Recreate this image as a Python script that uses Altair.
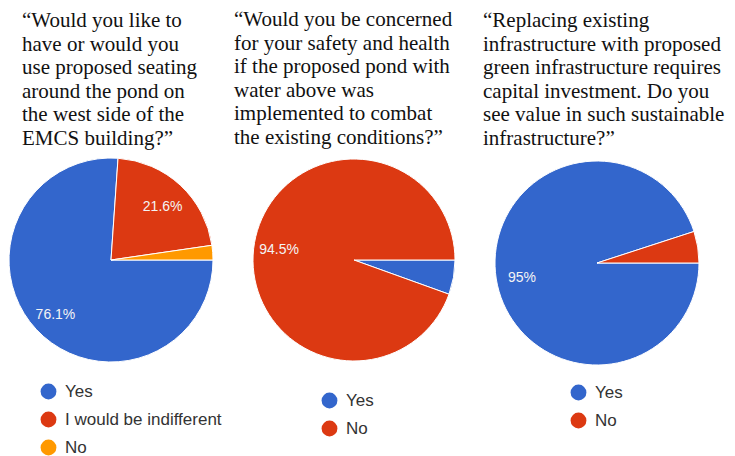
import math
import altair as alt
import pandas as pd

# ---- data ----
q1_categories = ["Yes", "I would be indifferent", "No"]
q1_values = [76.1, 21.6, 2.3]
q2_categories = ["Yes", "No"]
q2_values = [5.5, 94.5]
q3_categories = ["Yes", "No"]
q3_values = [95, 5]

q1_title = ["“Would you like to", "have or would you", "use proposed seating",
            "around the pond on", "the west side of the", "EMCS building?”"]
q2_title = ["“Would you be concerned", "for your safety and health",
            "if the proposed pond with", "water above was",
            "implemented to combat", "the existing conditions?”"]
q3_title = ["“Replacing existing", "infrastructure with proposed",
            "green infrastructure requires", "capital investment. Do you",
            "see value in such sustainable", "infrastructure?”"]

# ---- styles ----
BLUE, RED, ORANGE = "#3366cc", "#dc3912", "#ff9900"
q1_colors = [BLUE, RED, ORANGE]
q2_colors = [BLUE, RED]
q3_colors = [BLUE, RED]

THETA_SCALE = alt.Scale(domain=[0, 100], range=[math.pi / 2, math.pi / 2 + 2 * math.pi])


def pie(cats, vals, colors, cx, cy, r, lx, ly):
    df = pd.DataFrame({"cat": cats, "v": vals, "i": list(range(len(cats)))})
    base = alt.Chart(df).transform_calculate(
        label="datum.v >= 10 ? toString(datum.v) + '%' : ''"
    ).encode(
        theta=alt.Theta("v:Q", stack=True, scale=THETA_SCALE),
        order=alt.Order("i:Q"),
        x=alt.value(cx),
        y=alt.value(cy),
    )
    arc = base.mark_arc(outerRadius=r, stroke="white", strokeWidth=1).encode(
        color=alt.Color(
            "cat:N",
            scale=alt.Scale(domain=cats, range=colors),
            legend=alt.Legend(
                orient="none", legendX=lx, legendY=ly, title=None,
                symbolType="circle", symbolSize=250, symbolStrokeWidth=0,
                labelFontSize=17, labelFont="Liberation Sans", labelColor="#333333",
                rowPadding=10, labelOffset=8, padding=0,
            ),
        )
    )
    text = base.mark_text(
        radius=76, font="Liberation Sans", fontSize=14, color="#f4f4f4",
        align="center", baseline="middle", dy=3,
    ).encode(text="label:N", detail="cat:N")
    return alt.layer(arc, text)


def title(lines, x, y):
    return alt.Chart(pd.DataFrame({"k": [0]})).mark_text(
        font="Liberation Serif", fontSize=21, lineHeight=23.5, align="left",
        baseline="alphabetic", color="#111111",
    ).encode(x=alt.value(x), y=alt.value(y), text=alt.value(lines))


chart = alt.layer(
    title(q1_title, 14, 19),
    title(q2_title, 226, 18),
    title(q3_title, 475, 19),
    pie(q1_categories, q1_values, q1_colors, 103, 252, 102, 32, 375),
    pie(q2_categories, q2_values, q2_colors, 346, 252, 101, 313, 384),
    pie(q3_categories, q3_values, q3_colors, 589, 255, 102, 562, 376),
).resolve_scale(color="independent").properties(
    width=719, height=448, autosize="none", padding=0
).configure_view(stroke=None)

chart.save("out.html", embed_options={"renderer": "svg", "actions": False})
